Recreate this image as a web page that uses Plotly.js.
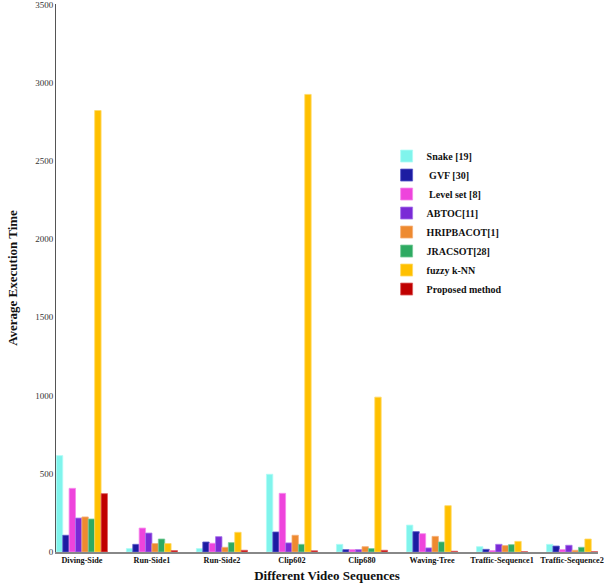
<!DOCTYPE html>
<html>
<head>
<meta charset="utf-8">
<script src="https://cdn.plot.ly/plotly-3.0.1.min.js"></script>
<style>html,body{margin:0;padding:0;background:#fff;}#chart{width:610px;height:583px;}</style>
</head>
<body>
<div id="chart"></div>
<script>
const categories = ["Diving-Side", "Run-Side1", "Run-Side2", "Clip602", "Clip680", "Waving-Tree", "Traffic-Sequence1", "Traffic-Sequence2"];
const seriesNames = ["Snake [19]", "\u00a0GVF [30]", "\u00a0Level set [8]", "ABTOC[11]", "HRIPBACOT[1]", "JRACSOT[28]", "fuzzy k-NN", "Proposed method"];
const snake     = [616, 22, 22, 497, 49, 172, 34, 49];
const gvf       = [107, 49, 64, 128, 15, 130, 17, 38];
const levelSet  = [407, 153, 56, 375, 15, 117, 9, 15];
const abtoc     = [217, 121, 98, 58, 15, 26, 49, 43];
const hripbacot = [224, 54, 30, 107, 34, 100, 41, 11];
const jracsot   = [211, 83, 60, 49, 22, 64, 47, 30];
const fuzzyKnn  = [2822, 54, 126, 2925, 990, 296, 68, 83];
const proposed  = [373, 9, 11, 8, 11, 5, 2, 2];
const seriesValues = [snake, gvf, levelSet, abtoc, hripbacot, jracsot, fuzzyKnn, proposed];
const yTicks = [0, 500, 1000, 1500, 2000, 2500, 3000, 3500];

const fills = ["#80f4ec", "#1c1ca2", "#ee44dc", "#7a2ad6", "#ee8a30", "#2eaa62", "#ffc000", "#c00000"];
const edges = ["#b0fbf6", "#5a5acc", "#f688ec", "#a672ea", "#f6b078", "#78cc9a", "#ffd966", "#dd6060"];

const traces = seriesValues.map((vals, i) => ({
  type: "bar",
  name: "<b>" + seriesNames[i] + "</b>",
  x: categories,
  y: vals,
  marker: {color: fills[i], line: {color: edges[i], width: 0.8}},
  hoverinfo: "x+y"
}));

const layout = {
  width: 610, height: 583,
  margin: {l: 56, r: 12, t: 4, b: 31},
  paper_bgcolor: "#ffffff", plot_bgcolor: "#ffffff",
  barmode: "group", bargap: 0.27, bargroupgap: 0,
  showlegend: true,
  legend: {
    x: 0.61, y: 0.749, xanchor: "left", yanchor: "top",
    font: {family: "Liberation Serif", size: 10, color: "#111"},
    itemwidth: 30, tracegroupgap: 0, bgcolor: "rgba(0,0,0,0)"
  },
  xaxis: {
    range: [-0.37, 7.37], showgrid: false, zeroline: false,
    showline: true, linecolor: "#888", linewidth: 1.5,
    tickvals: categories, ticktext: categories.map(c => "<b>" + c + "</b>"),
    tickangle: 0,
    ticks: "", tickfont: {family: "Liberation Serif", size: 8.2, color: "#111"},
    automargin: false,
    title: {text: "<b>Different Video Sequences</b>", font: {family: "Liberation Serif", size: 13, color: "#111"}, standoff: 6}
  },
  yaxis: {
    range: [0, 3503], tickvals: yTicks, ticktext: yTicks.map(String),
    showgrid: false, zeroline: false,
    showline: true, linecolor: "#555", linewidth: 1,
    ticks: "", ticklen: 0, tickfont: {family: "Liberation Serif", size: 9, color: "#333"},
    ticklabeloverflow: "allow",
    automargin: false,
    title: {text: "<b>Average Execution Time</b>", font: {family: "Liberation Serif", size: 13, color: "#111"}, standoff: 14}
  },
  font: {family: "Liberation Serif"}
};

Plotly.newPlot("chart", traces, layout, {displayModeBar: false, staticPlot: true});
</script>
</body>
</html>
